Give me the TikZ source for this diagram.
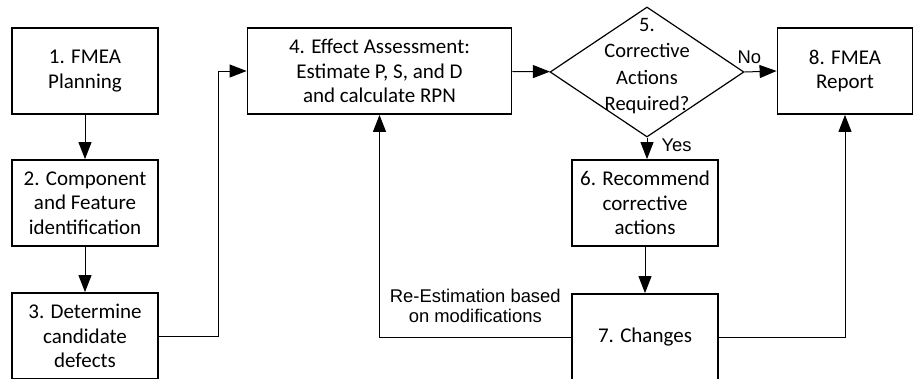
\documentclass[tikz,border=0pt]{standalone}
\usepackage{fontspec}
\setmainfont{Carlito}
\newfontfamily\tagfont{Liberation Sans}
\usepackage{tikz}
\usetikzlibrary{
    positioning,
    arrows.meta,
    shapes.geometric,
    calc,
}
\tikzset{
    % Node styles
    stagebox/.style={rectangle, draw, line width=1.8pt, minimum width=146pt,
                     minimum height=86pt, align=center, inner sep=2pt,
                     font=\fontsize{21}{24.5}\selectfont},
    decision/.style={diamond, draw, line width=1.2pt, minimum width=194pt,
                     minimum height=130pt, inner sep=-30pt, align=center,
                     text depth=15pt, font=\fontsize{20.5}{26.5}\selectfont},
    % Arrow styles
    flow/.style={-{Triangle[length=17pt, width=13pt]}, line width=1pt},
    % Annotation styles
    tag/.style={font=\tagfont\fontsize{18.4}{19.5}\selectfont, align=center, inner sep=2pt},
}

\begin{document}
\begin{tikzpicture}[x=1pt, y=-1pt]
    \useasboundingbox (0,0) rectangle (914,378);

    % Steps
    \node[stagebox] (plan) at (85, 71) {1. FMEA\\Planning};
    \node[stagebox] (ident) at (85, 203) {2. Component\\and Feature\\identification};
    \node[stagebox] (defect) at (85, 336) {3. Determine\\candidate\\defects};
    \node[stagebox, minimum width=264pt] (effect) at (379.5, 71) {4. Effect Assessment:\\Estimate P, S, and D\\and calculate RPN};
    \node[decision] (decide) at (647, 72) {5.\\Corrective\\Actions\\Required?};
    \node[stagebox] (recommend) at (645, 203) {6. Recommend\\corrective\\actions};
    \node[stagebox] (change) at (645, 337) {7. Changes};
    \node[stagebox, minimum width=135pt] (report) at (845, 71) {8. FMEA\\Report};
    \coordinate (bend) at (218, 0);

    % Arrows
    \draw[flow] (plan) -- (ident);
    \draw[flow] (ident) -- (defect);
    \draw[flow] (defect.east) -- (defect.east -| bend) |- (effect.west);
    \draw[flow] (effect) -- (decide);
    \draw[flow] (decide.east) -- node[tag, above=6pt, pos=0.15] {No} (report.west);
    \draw[flow] (decide.south) -- node[tag, right=12pt, pos=0.35] {Yes} (decide.south |- recommend.north);
    \draw[flow] (recommend) -- (change);
    \draw[flow] (change.east) -| (report.south);
    \draw[flow] (change.west) -| node[tag, above=12pt, pos=0.25] {Re-Estimation based\\on modifications} (effect.south);
\end{tikzpicture}
\end{document}
